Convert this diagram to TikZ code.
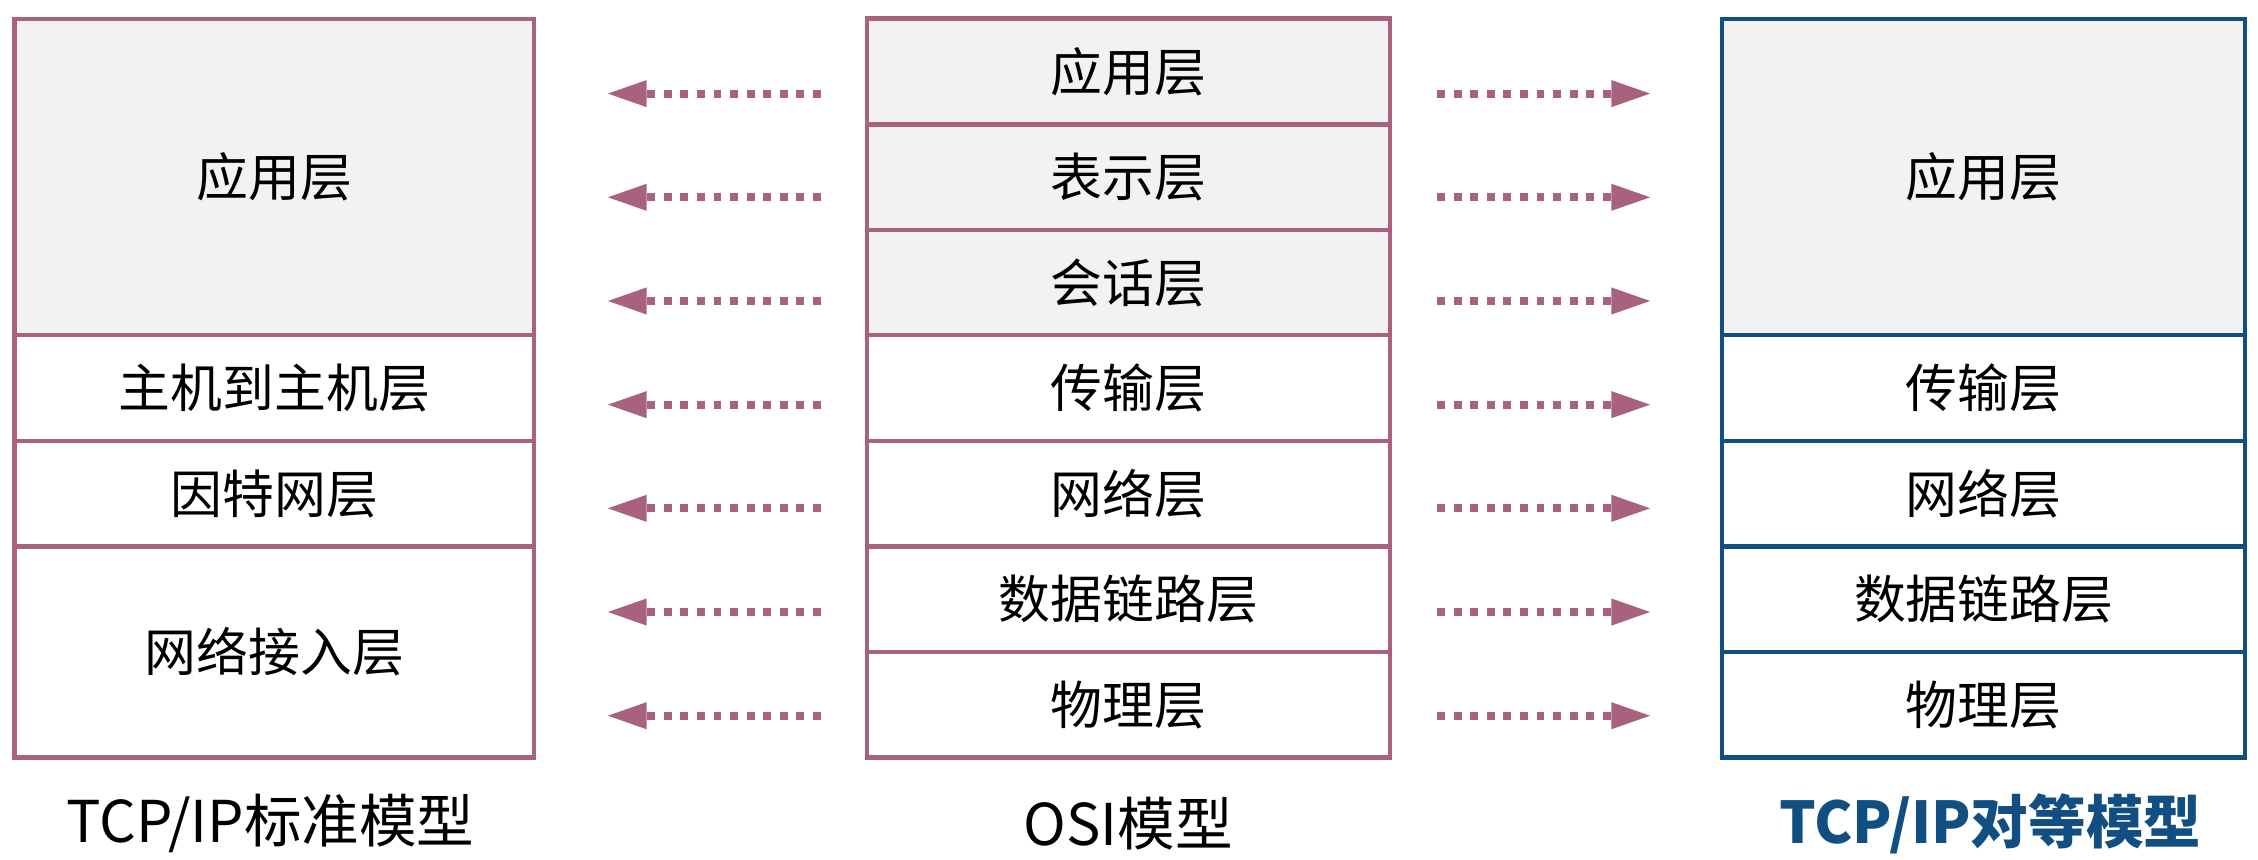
\documentclass[tikz,border=0pt]{standalone}
\usepackage{fontspec}
\newfontfamily\cjk{Noto Sans CJK SC}
\usetikzlibrary{arrows.meta}
\definecolor{mauve}{RGB}{168,98,127}
\definecolor{tcpblue}{RGB}{17,78,130}
\definecolor{lgray}{RGB}{242,242,242}
\tikzset{
  layer/.style={draw=mauve, line width=3pt, inner sep=0pt, fill=white,
    font=\cjk\fontsize{36}{40}\selectfont, text=black},
  tcplayer/.style={layer, draw=tcpblue},
  upper/.style={fill=lgray},
  caption/.style={inner sep=0pt, font=\cjk\fontsize{40}{44}\selectfont, text=black},
  dotarrow/.style={draw=mauve, line width=5.5pt, dash pattern=on 5.5pt off 6pt,
    -{Triangle[length=28pt,width=17pt]}}
}
\begin{document}
\begin{tikzpicture}[x=1pt,y=-1pt]
\useasboundingbox (0,0) rectangle (1568,597);
% left: TCP/IP standard model
\node[layer, upper, minimum width=361pt, minimum height=219.9pt] (L1) at (190.5,123) {应用层};
\node[layer, minimum width=361pt, minimum height=73.3pt] (L2) at (190.5,269.5) {主机到主机层};
\node[layer, minimum width=361pt, minimum height=73.3pt] (L3) at (190.5,342.8) {因特网层};
\node[layer, minimum width=361pt, minimum height=146.6pt] (L4) at (190.5,452.7) {网络接入层};
% middle: OSI
\node[layer, upper, minimum width=363pt, minimum height=73.3pt] (M1) at (783.5,49.6) {应用层};
\node[layer, upper, minimum width=363pt, minimum height=73.3pt] (M2) at (783.5,123.0) {表示层};
\node[layer, upper, minimum width=363pt, minimum height=73.3pt] (M3) at (783.5,196.3) {会话层};
\node[layer, minimum width=363pt, minimum height=73.3pt] (M4) at (783.5,269.5) {传输层};
\node[layer, minimum width=363pt, minimum height=73.3pt] (M5) at (783.5,342.8) {网络层};
\node[layer, minimum width=363pt, minimum height=73.3pt] (M6) at (783.5,416.1) {数据链路层};
\node[layer, minimum width=363pt, minimum height=73.3pt] (M7) at (783.5,489.4) {物理层};
% right: TCP/IP peer model
\node[tcplayer, upper, minimum width=363pt, minimum height=219.9pt] (R1) at (1377.5,123) {应用层};
\node[tcplayer, minimum width=363pt, minimum height=73.3pt] (R2) at (1377.5,269.5) {传输层};
\node[tcplayer, minimum width=363pt, minimum height=73.3pt] (R3) at (1377.5,342.8) {网络层};
\node[tcplayer, minimum width=363pt, minimum height=73.3pt] (R4) at (1377.5,416.1) {数据链路层};
\node[tcplayer, minimum width=363pt, minimum height=73.3pt] (R5) at (1377.5,489.4) {物理层};
% captions
\node[caption] (cL) at (188,572) {TCP/IP标准模型};
\node[caption] (cM) at (783.5,572) {OSI模型};
\node[caption, text=tcpblue, font=\cjk\bfseries\fontsize{40}{44}\selectfont] (cR) at (1382,572) {TCP/IP对等模型};
% arrows
\foreach \i in {0,...,6} {
  \coordinate (ls\i) at (570,65+72*\i);
  \coordinate (le\i) at (421,65+72*\i);
  \coordinate (rs\i) at (998,65+72*\i);
  \coordinate (re\i) at (1147,65+72*\i);
  \draw[dotarrow] (ls\i) -- (le\i);
  \draw[dotarrow] (rs\i) -- (re\i);
}
\end{tikzpicture}
\end{document}
